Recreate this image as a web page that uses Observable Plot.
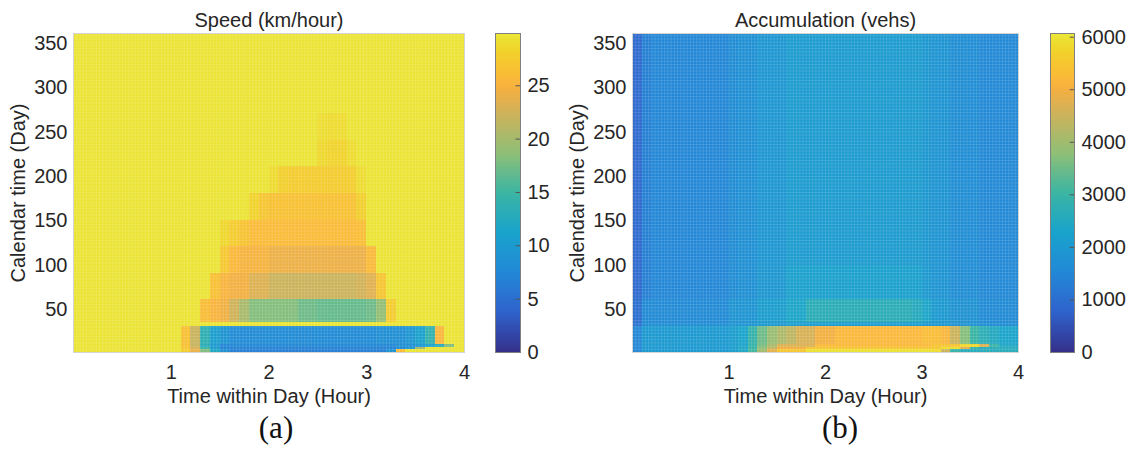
<!DOCTYPE html>
<html>
<head>
<meta charset="utf-8">
<script src="https://cdn.jsdelivr.net/npm/d3@7"></script>
<script src="https://cdn.jsdelivr.net/npm/@observablehq/plot@0.6"></script>
<style>
  body { margin: 0; background: #fff; }
  #fig { position: relative; width: 1128px; height: 453px; overflow: hidden; }
  #fig > svg, #fig > figure, #fig > div { position: absolute; margin: 0; }
  .sub { font-family: "Liberation Serif", "Times New Roman", serif; font-size: 31px; color: #111;
         transform: translate(-50%, -50%); white-space: nowrap; }
</style>
</head>
<body>
<div id="fig"></div>
<script>
// ---------------- data ----------------
const hourTicks = [1, 2, 3, 4];
const dayTicks = [50, 100, 150, 200, 250, 300, 350];
const speedTicks = [0, 5, 10, 15, 20, 25];
const accTicks = [0, 1000, 2000, 3000, 4000, 5000, 6000];
const speedMax = 29.9;
const accMax = 6070;
// time-within-day columns: 0.1 hour each (0 .. 4 h)
const hourEdges = d3.range(0, 41).map(i => i / 10);

// Speed (km/hour): day-band edges (bottom to top) and run-length rows [count, value] over the 40 columns
const speedDayEdges = [2, 5, 8, 11, 31, 36, 62, 91, 121, 151, 181, 211, 241, 271, 361];
const speedRows = [
  [[11,29.6],[1,27.5],[1,24],[1,18],[1,12],[1,8.5],[16,6.6],[1,9],[1,26],[6,29.6]],
  [[11,29.6],[1,27],[1,23],[1,15],[1,10],[18,7.0],[1,7.8],[1,9.5],[1,20],[4,29.6]],
  [[11,29.6],[1,26.5],[1,22],[1,13],[1,10],[18,7.4],[2,8.4],[1,9.6],[1,11],[1,12.6],[1,18],[1,29.6]],
  [[11,29.6],[1,26.5],[1,22],[1,13.5],[1,10.5],[1,9.2],[15,8.0],[3,8.4],[1,9.4],[1,11],[1,14],[1,25.5],[2,29.6]],
  [[40,29.6]],
  [[13,29.6],[1,26.2],[1,25.2],[1,24.4],[1,22.5],[1,20.2],[5,18.2],[2,17.2],[5,16.8],[1,17.2],[1,19],[1,27.6],[7,29.6]],
  [[14,29.6],[1,26.5],[1,25.2],[2,24.6],[2,23.2],[9,22.2],[1,22.6],[1,23.4],[1,27],[8,29.6]],
  [[15,29.6],[1,27.2],[1,25.6],[3,25.0],[10,24.2],[1,25.8],[9,29.6]],
  [[15,29.6],[1,28.6],[1,27.6],[1,26.8],[11,25.9],[1,26.3],[10,29.6]],
  [[18,29.6],[1,28.3],[1,27.0],[9,26.6],[1,27.9],[10,29.6]],
  [[20,29.6],[1,28.9],[1,27.9],[6,27.6],[1,27.8],[1,29.0],[10,29.6]],
  [[25,29.6],[1,28.7],[2,28.3],[1,29.0],[11,29.6]],
  [[25,29.6],[1,29.1],[1,28.9],[1,29.0],[12,29.6]],
  [[40,29.6]]
];

// Accumulation (vehs)
const accDayEdges = [2, 5, 8, 11, 31, 36, 62, 100, 361];
const accRows = [
  [[1,1500],[9,2000],[1,2100],[1,2400],[1,3100],[1,4000],[1,4800],[3,5500],[13,5950],[1,5900],[1,4500],[1,2900],[6,2600]],
  [[1,1500],[9,2000],[1,2100],[1,2400],[1,3000],[1,3800],[1,4400],[3,5000],[14,5450],[2,5900],[1,4800],[1,3000],[4,2600]],
  [[1,1500],[9,2000],[1,2100],[1,2300],[1,2900],[1,3600],[1,4100],[4,4700],[12,5250],[3,5450],[2,5800],[1,4700],[1,3000],[2,2400]],
  [[1,1500],[9,2000],[1,2100],[1,2300],[1,2900],[1,3500],[1,3900],[1,4150],[1,4350],[2,4650],[2,5000],[9,5200],[2,5300],[1,5150],[1,4500],[1,3700],[1,3000],[1,2700],[1,2500],[2,2300]],
  [[1,1100],[9,1650],[3,1850],[3,2000],[14,2100],[3,1950],[3,1800],[4,1650]],
  [[1,1000],[9,1600],[3,1850],[3,2100],[2,2350],[11,2650],[1,2550],[1,2350],[2,2000],[3,1800],[4,1600]],
  [[1,900],[1,1350],[8,1500],[1,1650],[2,1750],[3,1950],[14,2200],[1,2000],[2,1850],[3,1700],[4,1550]],
  [[1,900],[1,1350],[8,1500],[1,1650],[2,1750],[3,1900],[14,2050],[1,1950],[2,1850],[3,1700],[4,1550]]
];

// parula-like colormap stops (as rendered in the source figure)
const parulaT = [0, 0.125, 0.25, 0.375, 0.5, 0.625, 0.75, 0.794, 0.825, 0.857, 0.889, 0.952, 1];
const parulaC = ["#35308a", "#2f62cc", "#2288d6", "#19a3cc", "#3bb5a2", "#8fbf76", "#cfb25a",
                 "#e6b04c", "#f4b040", "#fbb83a", "#f8c132", "#f0d52a", "#eae837"];

// ---------------- build ----------------
const FONT = '"Liberation Sans", Arial, Helvetica, sans-serif';
const INK = "#262626";

function expand(rle) {
  const out = [];
  for (const [n, v] of rle) for (let k = 0; k < n; k++) out.push(v);
  return out;
}
function cellsFrom(dayEdges, rows) {
  const cells = [];
  rows.forEach((rle, r) => expand(rle).forEach((v, i) =>
    cells.push({h1: hourEdges[i], h2: hourEdges[i + 1], d1: dayEdges[r], d2: dayEdges[r + 1], v})));
  return cells;
}
const colorScale = m => ({type: "linear", domain: parulaT.map(t => t * m), range: parulaC, interpolate: "rgb"});

// faint mesh lines of the pseudocolour plot
const meshX = d3.range(1, 120).map(i => i / 30);
const meshY = d3.range(2, 361, 3.6);

function heatmap({cells, title, vmax, width, marginLeft, marginRight}) {
  return Plot.plot({
    width, height: 453, marginLeft, marginRight, marginTop: 33, marginBottom: 101,
    style: {fontFamily: FONT, fontSize: "20px", color: INK, background: "transparent", overflow: "visible"},
    x: {domain: [0, 4], ticks: hourTicks, tickSize: 0, tickPadding: 12, tickFormat: d3.format("d"),
        label: "Time within Day (Hour)", labelAnchor: "center", labelOffset: 50, labelArrow: "none"},
    y: {domain: [2, 361], ticks: dayTicks, tickSize: 0, tickPadding: 6, tickFormat: d3.format("d"),
        label: "Calendar time (Day)", labelAnchor: "center", labelOffset: 63, labelArrow: "none"},
    color: colorScale(vmax),
    marks: [
      Plot.rect(cells, {x1: "h1", x2: "h2", y1: "d1", y2: "d2", fill: "v", shapeRendering: "crispEdges"}),
      Plot.ruleX(meshX, {stroke: "#fff", strokeOpacity: 0.13}),
      Plot.ruleY(meshY, {stroke: "#fff", strokeOpacity: 0.13}),
      Plot.frame({stroke: "#d4d4d4", strokeWidth: 1}),
      Plot.text([title], {frameAnchor: "top", dy: -7, lineAnchor: "bottom", text: d => d, fontSize: 20, fill: INK})
    ]
  });
}

function colorbar({vmax, ticks, width, marginRight}) {
  const n = 200, step = vmax / n;
  const slices = d3.range(n).map(i => ({v0: i * step, v1: (i + 1) * step, v: (i + 0.5) * step}));
  return Plot.plot({
    width, height: 453, marginLeft: 0, marginRight, marginTop: 33, marginBottom: 101,
    style: {fontFamily: FONT, fontSize: "20px", color: INK, background: "transparent", overflow: "visible"},
    x: {domain: [0, 1], axis: null},
    y: {domain: [0, vmax], ticks, tickSize: 0, tickPadding: 7, axis: "right", label: null, tickFormat: d3.format("d")},
    color: colorScale(vmax),
    marks: [
      Plot.rect(slices, {x1: 0, x2: 1, y1: "v0", y2: "v1", fill: "v", shapeRendering: "crispEdges"}),
      Plot.ruleY(ticks.filter(t => t > 0 && t < vmax), {x1: 0.82, x2: 1, stroke: "#555", strokeWidth: 1}),
      Plot.frame({stroke: "#808080", strokeWidth: 1})
    ]
  });
}

const fig = document.getElementById("fig");
function place(node, left, top) { node.style.left = left + "px"; node.style.top = top + "px"; fig.appendChild(node); }

place(heatmap({cells: cellsFrom(speedDayEdges, speedRows), title: "Speed (km/hour)", vmax: speedMax,
               width: 480, marginLeft: 73, marginRight: 16}), 0, 0);
place(colorbar({vmax: speedMax, ticks: speedTicks, width: 70, marginRight: 45}), 495, 0);
place(heatmap({cells: cellsFrom(accDayEdges, accRows), title: "Accumulation (vehs)", vmax: accMax,
               width: 470, marginLeft: 72, marginRight: 12}), 560, 0);
place(colorbar({vmax: accMax, ticks: accTicks, width: 78, marginRight: 54}), 1050, 0);

for (const [txt, x] of [["(a)", 276], ["(b)", 840]]) {
  const d = document.createElement("div");
  d.className = "sub";
  d.textContent = txt;
  place(d, x, 428);
}
</script>
</body>
</html>
